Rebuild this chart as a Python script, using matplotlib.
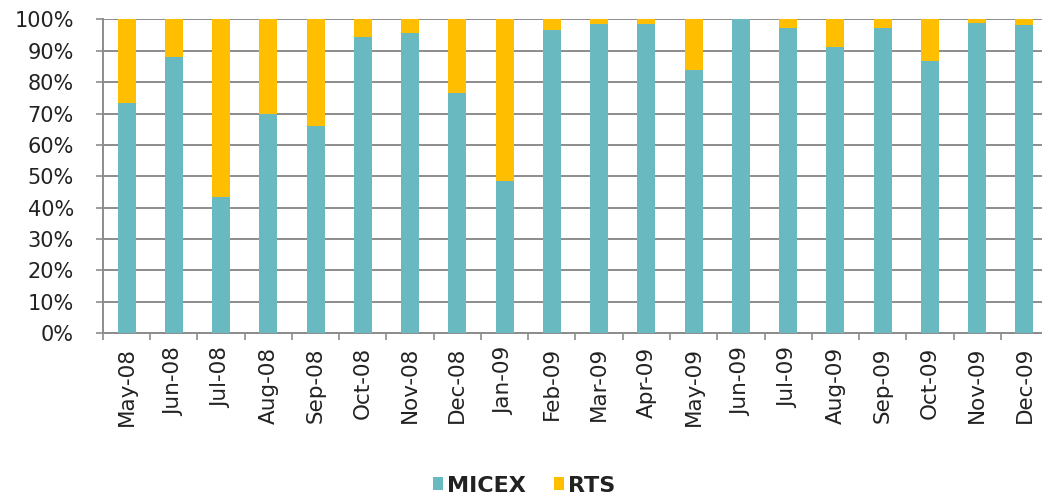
import numpy as np
import matplotlib
matplotlib.use('Agg')
import matplotlib.pyplot as plt
from matplotlib.ticker import FixedLocator

months = ['May-08', 'Jun-08', 'Jul-08', 'Aug-08', 'Sep-08', 'Oct-08', 'Nov-08',
          'Dec-08', 'Jan-09', 'Feb-09', 'Mar-09', 'Apr-09', 'May-09', 'Jun-09',
          'Jul-09', 'Aug-09', 'Sep-09', 'Oct-09', 'Nov-09', 'Dec-09']
micex = [73.5, 88.0, 43.5, 70.0, 66.0, 94.3, 95.6, 76.6, 48.4, 96.6,
         98.5, 98.6, 84.0, 100.0, 97.4, 91.2, 97.3, 86.8, 98.8, 98.2]
rts = [100 - m for m in micex]
yticks = np.arange(0, 101, 10)

c_micex = '#69BAC0'
c_rts = '#FFBF00'
grid_c = '#8C8C8C'

plt.rcParams['font.family'] = ['DejaVu Sans']

fig = plt.figure(figsize=(10.42, 4.98), dpi=100)
ax = fig.add_axes([0.0988, 0.331, 0.907, 0.630])

x = np.arange(len(months))
w = 0.38
ax.bar(x, micex, w, color=c_micex, label='MICEX', zorder=3)
ax.bar(x, rts, w, bottom=micex, color=c_rts, label='RTS', zorder=3)

ax.set_xlim(-0.5, len(months) - 0.5)
ax.set_ylim(0, 100)
ax.set_yticks(yticks)
ax.set_yticklabels(['%d%%' % t for t in yticks], fontsize=15, color='#222222')
ax.yaxis.grid(True, color=grid_c, linewidth=1.4, zorder=0)

ax.set_xticks(x)
ax.set_xticklabels(months, rotation=90, fontsize=15.5, color='#222222')
ax.tick_params(axis='x', which='major', length=0, pad=10)
ax.xaxis.set_minor_locator(FixedLocator(np.arange(-0.5, len(months), 1.0)))
ax.tick_params(axis='x', which='minor', length=5, width=1.2, color=grid_c)
ax.tick_params(axis='y', length=5, width=1.2, color=grid_c, pad=16)

for s in ['top', 'right']:
    ax.spines[s].set_visible(False)
for s in ['left', 'bottom']:
    ax.spines[s].set_color(grid_c)
    ax.spines[s].set_linewidth(1.4)

fig.legend(loc='center', bbox_to_anchor=(0.503, 0.025), ncol=2, frameon=False,
           prop={'size': 16, 'weight': 'bold'}, labelcolor='#222222',
           handlelength=0.45, handleheight=0.5,
           handletextpad=0.15, columnspacing=1.3)

fig.savefig('out.png', dpi=100)
